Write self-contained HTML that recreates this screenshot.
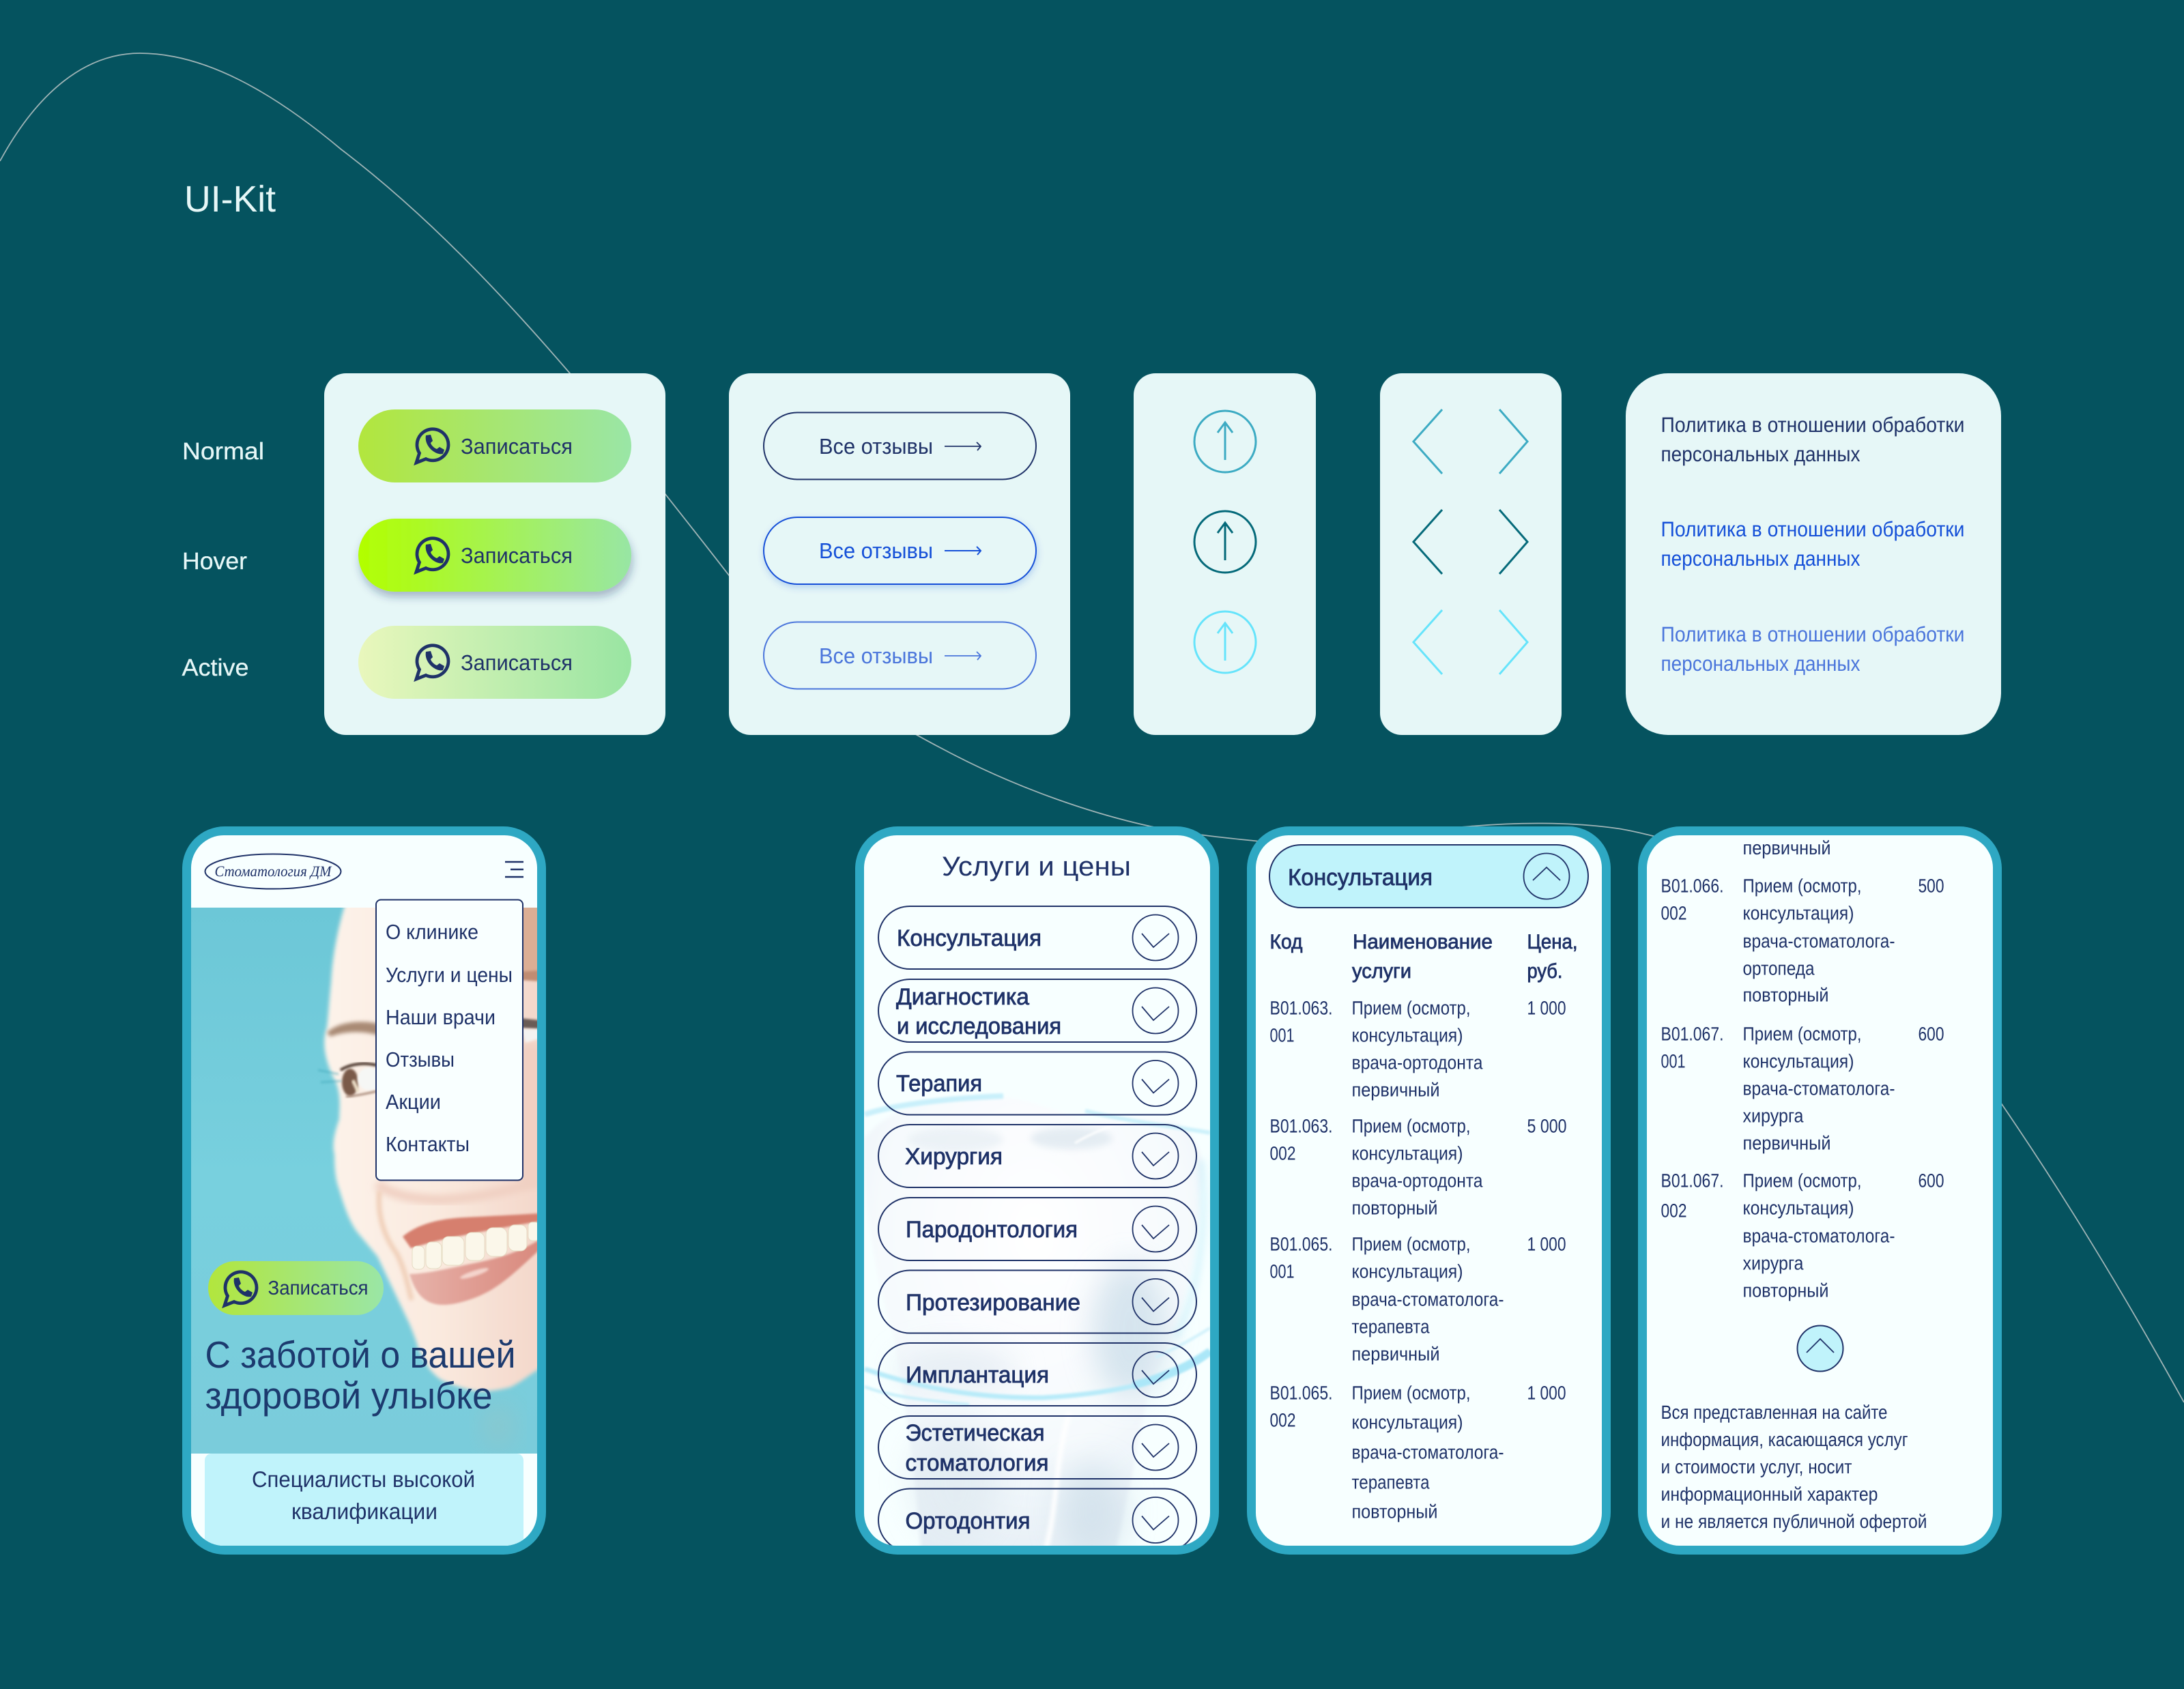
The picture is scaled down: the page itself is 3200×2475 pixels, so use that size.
<!DOCTYPE html>
<html lang="ru">
<head>
<meta charset="utf-8">
<title>UI-Kit</title>
<style>
html,body{margin:0;padding:0;background:#05535f}
svg{display:block}
text{font-family:"Liberation Sans","Noto Sans CJK SC",sans-serif;text-rendering:geometricPrecision;fill:#1f3268}
.sb{stroke:#1f3268;stroke-width:.8}
.t{font-size:28px}
.h{font-size:34px}
.th{font-size:30px}
.lab{fill:#e6f7f7;font-size:35px;stroke:#e6f7f7;stroke-width:.3}
.btn{font-size:32px}
.pol{font-size:31px}
.menu{font-size:30.5px}
.pill{fill:none;stroke:#1f3268;stroke-width:2}
.ch{fill:none;stroke:#1f3268;stroke-width:1.8}
</style>
</head>
<body>
<svg xmlns="http://www.w3.org/2000/svg" width="3200" height="2475" viewBox="0 0 3200 2475">
<defs>
<linearGradient id="g1" x1="0" y1="0" x2="1" y2="0"><stop offset="0" stop-color="#b2e63d"/><stop offset="1" stop-color="#9ae6a6"/></linearGradient>
<linearGradient id="g2" x1="0" y1="0" x2="1" y2="0"><stop offset="0" stop-color="#b2ff00"/><stop offset="1" stop-color="#98e6a4"/></linearGradient>
<linearGradient id="g3" x1="0" y1="0" x2="1" y2="0"><stop offset="0" stop-color="#e9f7bc"/><stop offset="1" stop-color="#99e5a2"/></linearGradient>
<linearGradient id="photo" x1="0" y1="0" x2="0" y2="1"><stop offset="0" stop-color="#6cc7d7"/><stop offset=".5" stop-color="#78d0de"/><stop offset="1" stop-color="#7accdb"/></linearGradient>
<linearGradient id="skin" x1="0" y1="0" x2="1" y2="0"><stop offset="0" stop-color="#fdf3ea"/><stop offset=".5" stop-color="#faeadf"/><stop offset="1" stop-color="#f3d6c9"/></linearGradient>
<linearGradient id="lip" x1="0" y1="0" x2="1" y2="0"><stop offset="0" stop-color="#e6b3aa"/><stop offset=".5" stop-color="#e09c92"/><stop offset="1" stop-color="#d98a7e"/></linearGradient>
<radialGradient id="tooth" cx=".5" cy=".3" r=".75"><stop offset="0" stop-color="#ffffff"/><stop offset=".6" stop-color="#f6fafd"/><stop offset="1" stop-color="#e4eef5"/></radialGradient>
<filter id="b5" x="-30%" y="-30%" width="160%" height="160%"><feGaussianBlur stdDeviation="5"/></filter>
<filter id="b3" x="-30%" y="-30%" width="160%" height="160%"><feGaussianBlur stdDeviation="3"/></filter>
<filter id="b1" x="-30%" y="-30%" width="160%" height="160%"><feGaussianBlur stdDeviation="1.5"/></filter>
<filter id="b14" x="-80%" y="-80%" width="260%" height="260%"><feGaussianBlur stdDeviation="22"/></filter>
<filter id="sh1" x="-10%" y="-30%" width="120%" height="170%"><feDropShadow dx="2" dy="8" stdDeviation="6" flood-color="#1f3268" flood-opacity=".32"/></filter>
<filter id="sh2" x="-10%" y="-30%" width="120%" height="170%"><feDropShadow dx="1" dy="4" stdDeviation="5" flood-color="#1550d8" flood-opacity=".22"/></filter>
<g id="wa">
  <path d="M-25 26 L-20.5 12 A23 23 0 1 1 -11 20.5 Z" fill="none" stroke="#1f3268" stroke-width="4.8" stroke-linejoin="miter"/>
  <path d="M-11 -14 L-4 -15 L-1 -6 L-4 -3 C-3 1 2 5 5 6 L9 3 L16 7 L14 13 C4 16 -14 2 -11 -14 Z" fill="#1f3268"/>
</g>
<g id="chd"><path class="ch" d="M-20 -6 L-3 14 L20 -6"/></g>
<g id="chu"><path class="ch" d="M-20 6 L0 -13 L20 6"/></g>
<clipPath id="c1"><rect x="280" y="1224" width="507" height="1041" rx="48"/></clipPath>
<clipPath id="c2"><rect x="1266" y="1224" width="507" height="1041" rx="48"/></clipPath>
</defs>

<rect width="3200" height="2475" fill="#05535f"/>

<!-- decorative curve -->
<path d="M0 236 C55 135 125 78 205 78 C300 78 400 135 500 219 C620 310 730 425 835 547 C900 630 1000 755 1068 843 C1150 950 1250 1030 1386 1100 C1480 1150 1590 1190 1686 1211 C1750 1224 1800 1228 1846 1233 C1950 1240 2050 1218 2153 1211 C2220 1205 2300 1204 2370 1214 C2390 1217 2405 1221 2422 1225 C2650 1290 2830 1470 2933 1618 C3030 1760 3120 1910 3200 2055" fill="none" stroke="#9fb4b6" stroke-width="1.8"/>

<!-- headings -->
<text x="270" y="310" textLength="134" lengthAdjust="spacingAndGlyphs" style="fill:#e6f7f7;font-size:54px">UI-Kit</text>
<text class="lab" x="267" y="673" textLength="120" lengthAdjust="spacingAndGlyphs">Normal</text>
<text class="lab" x="267" y="834" textLength="95" lengthAdjust="spacingAndGlyphs">Hover</text>
<text class="lab" x="266.500" y="990" textLength="98" lengthAdjust="spacingAndGlyphs">Active</text>

<!-- cards -->
<rect x="475" y="547" width="500" height="530" rx="32" fill="#e6f7f7"/>
<rect x="1068" y="547" width="500" height="530" rx="32" fill="#e6f7f7"/>
<rect x="1661" y="547" width="267" height="530" rx="32" fill="#e6f7f7"/>
<rect x="2022" y="547" width="266" height="530" rx="32" fill="#e6f7f7"/>
<rect x="2382" y="547" width="550" height="530" rx="62" fill="#e6f7f7"/>

<!-- green buttons -->
<rect x="525" y="600" width="400" height="107" rx="53.5" fill="url(#g1)"/>
<rect x="525" y="760" width="400" height="107" rx="53.5" fill="url(#g2)" filter="url(#sh1)"/>
<rect x="525" y="917" width="400" height="107" rx="53.5" fill="url(#g3)"/>
<use href="#wa" x="635" y="652"/>
<use href="#wa" x="635" y="812"/>
<use href="#wa" x="635" y="969"/>
<text class="btn" x="675" y="665" textLength="164" lengthAdjust="spacingAndGlyphs">Записаться</text>
<text class="btn" x="675" y="825" textLength="164" lengthAdjust="spacingAndGlyphs">Записаться</text>
<text class="btn" x="675" y="982" textLength="164" lengthAdjust="spacingAndGlyphs">Записаться</text>

<!-- outline buttons -->
<rect x="1119" y="604.5" width="399" height="98" rx="49" fill="none" stroke="#1f3268" stroke-width="2"/>
<rect x="1119" y="758" width="399" height="98" rx="49" fill="#e6f7f7" stroke="#1550d8" stroke-width="2" filter="url(#sh2)"/>
<rect x="1119" y="911.5" width="399" height="98" rx="49" fill="none" stroke="#4a75db" stroke-width="2"/>
<text class="btn" x="1200" y="665" textLength="167" lengthAdjust="spacingAndGlyphs">Все отзывы</text>
<text class="btn" x="1200" y="818" textLength="167" lengthAdjust="spacingAndGlyphs" style="fill:#1550d8">Все отзывы</text>
<text class="btn" x="1200" y="972" textLength="167" lengthAdjust="spacingAndGlyphs" style="fill:#4a75db">Все отзывы</text>
<path d="M1384 654 H1437 M1431 648 L1437 654 L1432 660" fill="none" stroke="#1f3268" stroke-width="1.8"/>
<path d="M1384 807 H1437 M1431 801 L1437 807 L1432 813" fill="none" stroke="#1550d8" stroke-width="2"/>
<path d="M1384 961 H1437 M1431 955 L1437 961 L1432 967" fill="none" stroke="#4a75db" stroke-width="1.8"/>

<!-- up arrows -->
<g fill="none" stroke-width="3">
<g stroke="#3dabc3"><circle cx="1795" cy="647" r="45"/><path d="M1795 674 V620 M1784 634 L1795 619 L1806 634"/></g>
<g stroke="#056a7a"><circle cx="1795" cy="794" r="45"/><path d="M1795 821 V767 M1784 781 L1795 766 L1806 781"/></g>
<g stroke="#66e4fb"><circle cx="1795" cy="941" r="45"/><path d="M1795 968 V914 M1784 928 L1795 913 L1806 928"/></g>
</g>

<!-- chevrons -->
<g fill="none" stroke-width="3">
<path stroke="#3dabc3" d="M2113 600 L2071 647 L2113 694 M2197 600 L2238 647 L2197 694"/>
<path stroke="#056a7a" d="M2113 747 L2071 794 L2113 841 M2197 747 L2238 794 L2197 841"/>
<path stroke="#66e4fb" d="M2113 894 L2071 941 L2113 988 M2197 894 L2238 941 L2197 988"/>
</g>

<!-- policy links -->
<text class="pol" x="2433.5" y="633" textLength="445" lengthAdjust="spacingAndGlyphs">Политика в отношении обработки</text>
<text class="pol" x="2433.5" y="676" textLength="292" lengthAdjust="spacingAndGlyphs">персональных данных</text>
<text class="pol" x="2433.5" y="786" textLength="445" lengthAdjust="spacingAndGlyphs" style="fill:#1550d8">Политика в отношении обработки</text>
<text class="pol" x="2433.5" y="829" textLength="292" lengthAdjust="spacingAndGlyphs" style="fill:#1550d8">персональных данных</text>
<text class="pol" x="2433.5" y="940" textLength="445" lengthAdjust="spacingAndGlyphs" style="fill:#4a75db">Политика в отношении обработки</text>
<text class="pol" x="2433.5" y="983" textLength="292" lengthAdjust="spacingAndGlyphs" style="fill:#4a75db">персональных данных</text>

<!-- PHONE 1 -->
<rect x="267" y="1211" width="533" height="1067" rx="62" fill="#2ea8c3"/>
<rect x="280" y="1224" width="507" height="1041" rx="48" fill="#f7ffff"/>
<g clip-path="url(#c1)">
  <rect x="280" y="1330" width="507" height="800" fill="url(#photo)"/>
  <svg x="280" y="1330" width="507" height="800" viewBox="280 1330 507 800">
    <ellipse cx="730" cy="2090" rx="16" ry="34" fill="#b9b9a8" opacity=".4" filter="url(#b14)"/>
    <path d="M507 1320 C495 1360 487 1400 485 1440 C482 1470 481 1490 479 1505 C470 1530 478 1560 493 1588 C500 1610 497 1625 497 1640 C488 1665 487 1680 490 1692 C490 1715 492 1730 497 1743 C505 1770 512 1790 523 1805 L553 1841 L600 1940 C606 1955 610 1965 613 1976 C620 1990 625 2000 630 2007 C640 2018 645 2022 653 2025 C670 2032 685 2036 697 2038 C715 2040 730 2037 747 2033 C765 2025 778 2012 800 2000 L800 1320 Z" fill="url(#skin)" filter="url(#b3)"/>
    <path d="M762 1320 H800 V1430 H762 Z" fill="#dcae94" filter="url(#b3)"/>
    <path d="M762 1530 H800 V1740 H762 Z" fill="#f0d0c2" filter="url(#b5)"/>
    <!-- eyebrow -->
    <path d="M479 1513 C495 1498 525 1494 555 1500 L555 1517 C530 1510 505 1511 484 1519 Z" fill="#a98a74" filter="url(#b3)"/>
    <path d="M762 1424 L790 1422 V1438 L762 1436 Z" fill="#c08c72" filter="url(#b1)"/>
    <!-- eye -->
    <ellipse cx="513" cy="1586" rx="12" ry="20" fill="#7a5a48" filter="url(#b1)"/>
    <ellipse cx="541" cy="1581" rx="17" ry="17" fill="#f6f7f5" filter="url(#b1)"/>
    <path d="M499 1568 C515 1558 535 1557 552 1561" fill="none" stroke="#4a342a" stroke-width="4" filter="url(#b1)"/>
    <path d="M507 1607 C520 1606 540 1602 552 1599" fill="none" stroke="#9c7c6a" stroke-width="2.5" filter="url(#b1)"/>
    <path d="M517 1583 L525 1600" stroke="#efe2cb" stroke-width="5" filter="url(#b1)"/>
    <path d="M466 1568 L496 1574 M470 1586 L500 1584" stroke="#3aa3b6" stroke-width="3" opacity=".45" filter="url(#b1)"/>
    <path d="M762 1492 L790 1495 V1508 L762 1506 Z" fill="#6a5c56" filter="url(#b1)"/>
    <path d="M765 1508 L790 1508 V1522 L770 1528 Z" fill="#f4f3f1" filter="url(#b1)"/>
    <!-- nose bottom -->
    <path d="M552 1735 C575 1752 610 1758 650 1758 C700 1755 750 1745 790 1730" fill="none" stroke="#f0d0c2" stroke-width="14" filter="url(#b5)"/>
    <!-- cheek fold -->
    <path d="M556 1745 C552 1785 565 1815 582 1838 C592 1858 597 1880 603 1905" fill="none" stroke="#f0cfb8" stroke-width="7" filter="url(#b3)"/>
    <!-- lips -->
    <path d="M590 1812 C610 1795 640 1786 680 1784 C720 1782 760 1780 790 1778 L790 1790 C750 1796 700 1806 660 1814 C640 1818 620 1824 602 1829 Z" fill="#d67f6e" filter="url(#b1)"/>
    <path d="M600 1867 C630 1866 660 1858 690 1852 C720 1846 755 1838 790 1817 L790 1832 C770 1850 745 1875 720 1890 C700 1902 670 1912 650 1912 C625 1912 610 1900 600 1867 Z" fill="url(#lip)" filter="url(#b1)"/>
    <ellipse cx="695" cy="1866" rx="22" ry="4" fill="#f4d4cc" transform="rotate(-18 695 1866)" filter="url(#b1)"/>
    <g fill="#fbf7ea" stroke="#e6dcc4" stroke-width="1">
      <rect x="604" y="1826" width="18" height="34" rx="7"/>
      <rect x="624" y="1820" width="23" height="39" rx="8"/>
      <rect x="648" y="1812" width="32" height="42" rx="9"/>
      <rect x="682" y="1806" width="28" height="41" rx="9"/>
      <rect x="712" y="1799" width="31" height="42" rx="10"/>
      <rect x="745" y="1795" width="27" height="38" rx="9"/>
      <rect x="774" y="1791" width="16" height="27" rx="6"/>
    </g>
  </svg>
  <rect x="300" y="2130" width="467" height="140" rx="10" fill="#c0f3fb"/>
  <text x="369" y="2179" textLength="327" lengthAdjust="spacingAndGlyphs" style="font-size:33px">Специалисты высокой</text>
  <text x="427" y="2226" textLength="214" lengthAdjust="spacingAndGlyphs" style="font-size:33px">квалификации</text>
</g>
<ellipse cx="400" cy="1277" rx="99.5" ry="25.5" fill="none" stroke="#1f3268" stroke-width="2"/>
<text x="400" y="1284" text-anchor="middle" textLength="171" lengthAdjust="spacingAndGlyphs" style="font-family:'Liberation Serif',serif;font-style:italic;font-size:22px">Стоматология ДМ</text>
<path d="M740 1263 H767 M748 1274 H767 M740 1285 H767" stroke="#1f3268" stroke-width="2.6" fill="none"/>
<rect x="551" y="1318.5" width="215" height="411" rx="7" fill="#f9ffff" stroke="#1f3268" stroke-width="2"/>
<text class="menu" x="565" y="1376" textLength="136" lengthAdjust="spacingAndGlyphs">О клинике</text>
<text class="menu" x="565" y="1439" textLength="186" lengthAdjust="spacingAndGlyphs">Услуги и цены</text>
<text class="menu" x="565" y="1501" textLength="161" lengthAdjust="spacingAndGlyphs">Наши врачи</text>
<text class="menu" x="565" y="1563" textLength="101" lengthAdjust="spacingAndGlyphs">Отзывы</text>
<text class="menu" x="565" y="1625" textLength="81" lengthAdjust="spacingAndGlyphs">Акции</text>
<text class="menu" x="565" y="1687" textLength="123" lengthAdjust="spacingAndGlyphs">Контакты</text>
<rect x="305" y="1848" width="257" height="79" rx="39.5" fill="url(#g1)"/>
<use href="#wa" x="354" y="1887"/>
<text x="392.500" y="1897" textLength="147" lengthAdjust="spacingAndGlyphs" style="font-size:29px">Записаться</text>
<text x="300.500" y="2004" textLength="455" lengthAdjust="spacingAndGlyphs" style="font-size:55px;fill:#1c3a6e">С заботой о вашей</text>
<text x="300.500" y="2064" textLength="421" lengthAdjust="spacingAndGlyphs" style="font-size:55px;fill:#1c3a6e">здоровой улыбке</text>

<!-- PHONE 2 -->
<rect x="1253" y="1211" width="533" height="1067" rx="62" fill="#2ea8c3"/>
<rect x="1266" y="1224" width="507" height="1041" rx="48" fill="#f7ffff"/>
<g clip-path="url(#c2)">
  <path d="M1267 1668 C1300 1620 1400 1600 1467 1607 C1510 1612 1560 1630 1593 1646 C1620 1636 1680 1630 1727 1646 C1760 1670 1768 1710 1760 1742 C1755 1820 1745 1880 1727 1928 C1715 1965 1700 2000 1687 2024 C1675 2070 1668 2110 1660 2154 C1650 2200 1642 2240 1633 2280 L1350 2280 C1345 2200 1335 2120 1327 2067 C1320 2020 1315 1985 1310 1959 C1285 1880 1262 1760 1267 1668 Z" fill="url(#tooth)" filter="url(#b3)"/>
  <path d="M1760 1700 C1770 1800 1755 1900 1722 1960" fill="none" stroke="#c5eefa" stroke-width="10" opacity=".55" filter="url(#b5)"/>
  <ellipse cx="1655" cy="1950" rx="55" ry="100" fill="#c8dbe8" opacity=".7" filter="url(#b14)"/>
  <ellipse cx="1600" cy="2215" rx="50" ry="70" fill="#cddee9" opacity=".7" filter="url(#b14)"/>
  <ellipse cx="1400" cy="2170" rx="65" ry="90" fill="#e0eaf1" opacity=".7" filter="url(#b14)"/>
  <ellipse cx="1400" cy="2005" rx="90" ry="30" fill="#dfe8f0" opacity=".7" filter="url(#b14)"/>
  <ellipse cx="1570" cy="1668" rx="60" ry="16" fill="#dbe6ee" opacity=".7" filter="url(#b5)"/>
  <ellipse cx="1400" cy="1670" rx="70" ry="18" fill="#e9f0f5" opacity=".8" filter="url(#b5)"/>
  <path d="M1575 1675 C1600 1660 1625 1650 1660 1640" fill="none" stroke="#ffffff" stroke-width="3" filter="url(#b1)"/>
  <path d="M1567 2070 C1545 2140 1550 2210 1530 2280" fill="none" stroke="#ffffff" stroke-width="7" filter="url(#b3)"/>
  <path d="M1267 1633 C1300 1622 1370 1610 1470 1606" fill="none" stroke="#c9f0fb" stroke-width="8" filter="url(#b1)"/>
  <path d="M1773 1660 C1730 1652 1660 1645 1590 1628" fill="none" stroke="#ccf1fb" stroke-width="6" filter="url(#b1)"/>
  <path d="M1267 2006 C1330 2028 1420 2050 1530 2048 C1600 2044 1720 2030 1773 1982" fill="none" stroke="#b8ebf9" stroke-width="7" filter="url(#b1)"/>
  <path d="M1660 2030 C1710 2016 1745 2000 1773 1980" fill="none" stroke="#abe7f8" stroke-width="11" filter="url(#b1)"/>
  <path d="M1267 2032 C1300 2045 1350 2052 1420 2058" fill="none" stroke="#c4eefa" stroke-width="4" filter="url(#b1)"/>
  <path d="M1693 1989 C1725 1975 1750 1960 1773 1946" fill="none" stroke="#d0f1fb" stroke-width="4" filter="url(#b1)"/>
  <g>
    <rect class="pill" x="1287" y="1328" width="466" height="92" rx="46"/>
    <rect class="pill" x="1287" y="1435" width="466" height="92" rx="46"/>
    <rect class="pill" x="1287" y="1541.5" width="466" height="92" rx="46"/>
    <rect class="pill" x="1287" y="1648" width="466" height="92" rx="46"/>
    <rect class="pill" x="1287" y="1755" width="466" height="92" rx="46"/>
    <rect class="pill" x="1287" y="1861.5" width="466" height="92" rx="46"/>
    <rect class="pill" x="1287" y="1968" width="466" height="92" rx="46"/>
    <rect class="pill" x="1287" y="2075" width="466" height="92" rx="46"/>
    <rect class="pill" x="1287" y="2181.5" width="466" height="92" rx="46"/>
  </g>
  <g>
    <circle class="ch" cx="1693" cy="1374" r="33.5"/>
    <circle class="ch" cx="1693" cy="1481" r="33.5"/>
    <circle class="ch" cx="1693" cy="1587.5" r="33.5"/>
    <circle class="ch" cx="1693" cy="1694" r="33.5"/>
    <circle class="ch" cx="1693" cy="1801" r="33.5"/>
    <circle class="ch" cx="1693" cy="1907.5" r="33.5"/>
    <circle class="ch" cx="1693" cy="2014" r="33.5"/>
    <circle class="ch" cx="1693" cy="2121" r="33.5"/>
    <circle class="ch" cx="1693" cy="2227.5" r="33.5"/>
  </g>
  <use href="#chd" x="1693" y="1374"/><use href="#chd" x="1693" y="1481"/><use href="#chd" x="1693" y="1587.5"/>
  <use href="#chd" x="1693" y="1694"/><use href="#chd" x="1693" y="1801"/><use href="#chd" x="1693" y="1907.5"/>
  <use href="#chd" x="1693" y="2014"/><use href="#chd" x="1693" y="2121"/><use href="#chd" x="1693" y="2227.5"/>
</g>
<text x="1380" y="1283" textLength="277" lengthAdjust="spacingAndGlyphs" style="font-size:40px">Услуги и цены</text>
<text class="h sb" x="1314" y="1386" textLength="212" lengthAdjust="spacingAndGlyphs">Консультация</text>
<text class="h sb" x="1313" y="1472" textLength="195" lengthAdjust="spacingAndGlyphs">Диагностика</text>
<text class="h sb" x="1314" y="1515" textLength="241" lengthAdjust="spacingAndGlyphs">и исследования</text>
<text class="h sb" x="1313" y="1599" textLength="126" lengthAdjust="spacingAndGlyphs">Терапия</text>
<text class="h sb" x="1326" y="1706" textLength="143" lengthAdjust="spacingAndGlyphs">Хирургия</text>
<text class="h sb" x="1327" y="1813" textLength="252" lengthAdjust="spacingAndGlyphs">Пародонтология</text>
<text class="h sb" x="1327" y="1920" textLength="256" lengthAdjust="spacingAndGlyphs">Протезирование</text>
<text class="h sb" x="1327" y="2026" textLength="210" lengthAdjust="spacingAndGlyphs">Имплантация</text>
<text class="h sb" x="1326.500" y="2111" textLength="204" lengthAdjust="spacingAndGlyphs">Эстетическая</text>
<text class="h sb" x="1326.500" y="2155" textLength="210" lengthAdjust="spacingAndGlyphs">стоматология</text>
<text class="h sb" x="1326.500" y="2240" textLength="183" lengthAdjust="spacingAndGlyphs">Ортодонтия</text>

<!-- PHONE 3 -->
<rect x="1827" y="1211" width="533" height="1067" rx="62" fill="#2ea8c3"/>
<rect x="1840" y="1224" width="507" height="1041" rx="48" fill="#f7ffff"/>
<rect x="1860" y="1238" width="467" height="92" rx="46" fill="#c0f3fb" stroke="#1f3268" stroke-width="2"/>
<circle class="ch" cx="2266" cy="1284" r="33.5"/>
<use href="#chu" x="2266" y="1284"/>
<text class="h sb" x="1887" y="1297" textLength="212" lengthAdjust="spacingAndGlyphs">Консультация</text>
<text class="th sb" x="1860.500" y="1390" textLength="48" lengthAdjust="spacingAndGlyphs">Код</text>
<text class="th sb" x="1982" y="1390" textLength="205" lengthAdjust="spacingAndGlyphs">Наименование</text>
<text class="th sb" x="1981" y="1433" textLength="87" lengthAdjust="spacingAndGlyphs">услуги</text>
<text class="th sb" x="2237.500" y="1390" textLength="74" lengthAdjust="spacingAndGlyphs">Цена,</text>
<text class="th sb" x="2237.500" y="1433" textLength="52" lengthAdjust="spacingAndGlyphs">руб.</text>

<g transform="translate(-.5,-1.5)">
<text class="t" x="1861" y="1488" textLength="92" lengthAdjust="spacingAndGlyphs">В01.063.</text>
<text class="t" x="1861" y="1528" textLength="36" lengthAdjust="spacingAndGlyphs">001</text>
<text class="t" x="1981" y="1488" textLength="174" lengthAdjust="spacingAndGlyphs">Прием (осмотр,</text>
<text class="t" x="1981" y="1528" textLength="163" lengthAdjust="spacingAndGlyphs">консультация)</text>
<text class="t" x="1981" y="1568" textLength="192" lengthAdjust="spacingAndGlyphs">врача-ортодонта</text>
<text class="t" x="1981" y="1608" textLength="129" lengthAdjust="spacingAndGlyphs">первичный</text>
<text class="t" x="2238" y="1488" textLength="57" lengthAdjust="spacingAndGlyphs">1 000</text>

<text class="t" x="1861" y="1661" textLength="92" lengthAdjust="spacingAndGlyphs">В01.063.</text>
<text class="t" x="1861" y="1701" textLength="38" lengthAdjust="spacingAndGlyphs">002</text>
<text class="t" x="1981" y="1661" textLength="174" lengthAdjust="spacingAndGlyphs">Прием (осмотр,</text>
<text class="t" x="1981" y="1701" textLength="163" lengthAdjust="spacingAndGlyphs">консультация)</text>
<text class="t" x="1981" y="1741" textLength="192" lengthAdjust="spacingAndGlyphs">врача-ортодонта</text>
<text class="t" x="1981" y="1781" textLength="126" lengthAdjust="spacingAndGlyphs">повторный</text>
<text class="t" x="2238" y="1661" textLength="58" lengthAdjust="spacingAndGlyphs">5 000</text>

<text class="t" x="1861" y="1834" textLength="92" lengthAdjust="spacingAndGlyphs">В01.065.</text>
<text class="t" x="1861" y="1874" textLength="36" lengthAdjust="spacingAndGlyphs">001</text>
<text class="t" x="1981" y="1834" textLength="174" lengthAdjust="spacingAndGlyphs">Прием (осмотр,</text>
<text class="t" x="1981" y="1874" textLength="163" lengthAdjust="spacingAndGlyphs">консультация)</text>
<text class="t" x="1981" y="1915" textLength="223" lengthAdjust="spacingAndGlyphs">врача-стоматолога-</text>
<text class="t" x="1981" y="1955" textLength="114" lengthAdjust="spacingAndGlyphs">терапевта</text>
<text class="t" x="1981" y="1995" textLength="129" lengthAdjust="spacingAndGlyphs">первичный</text>
<text class="t" x="2238" y="1834" textLength="57" lengthAdjust="spacingAndGlyphs">1 000</text>

<text class="t" x="1861" y="2052" textLength="92" lengthAdjust="spacingAndGlyphs">В01.065.</text>
<text class="t" x="1861" y="2092" textLength="38" lengthAdjust="spacingAndGlyphs">002</text>
<text class="t" x="1981" y="2052" textLength="174" lengthAdjust="spacingAndGlyphs">Прием (осмотр,</text>
<text class="t" x="1981" y="2095" textLength="163" lengthAdjust="spacingAndGlyphs">консультация)</text>
<text class="t" x="1981" y="2139" textLength="223" lengthAdjust="spacingAndGlyphs">врача-стоматолога-</text>
<text class="t" x="1981" y="2183" textLength="114" lengthAdjust="spacingAndGlyphs">терапевта</text>
<text class="t" x="1981" y="2226" textLength="126" lengthAdjust="spacingAndGlyphs">повторный</text>
<text class="t" x="2238" y="2052" textLength="57" lengthAdjust="spacingAndGlyphs">1 000</text>
</g>

<!-- PHONE 4 -->
<rect x="2400" y="1211" width="533" height="1067" rx="62" fill="#2ea8c3"/>
<rect x="2413" y="1224" width="507" height="1041" rx="48" fill="#f7ffff"/>
<text class="t" x="2553.500" y="1252" textLength="129" lengthAdjust="spacingAndGlyphs">первичный</text>

<g transform="translate(-.5,-1.5)">
<text class="t" x="2434" y="1309" textLength="92" lengthAdjust="spacingAndGlyphs">В01.066.</text>
<text class="t" x="2434" y="1349" textLength="38" lengthAdjust="spacingAndGlyphs">002</text>
<text class="t" x="2554" y="1309" textLength="174" lengthAdjust="spacingAndGlyphs">Прием (осмотр,</text>
<text class="t" x="2554" y="1349" textLength="163" lengthAdjust="spacingAndGlyphs">консультация)</text>
<text class="t" x="2554" y="1390" textLength="223" lengthAdjust="spacingAndGlyphs">врача-стоматолога-</text>
<text class="t" x="2554" y="1430" textLength="105" lengthAdjust="spacingAndGlyphs">ортопеда</text>
<text class="t" x="2554" y="1469" textLength="126" lengthAdjust="spacingAndGlyphs">повторный</text>
<text class="t" x="2811" y="1309" textLength="38" lengthAdjust="spacingAndGlyphs">500</text>

<text class="t" x="2434" y="1526" textLength="92" lengthAdjust="spacingAndGlyphs">В01.067.</text>
<text class="t" x="2434" y="1566" textLength="36" lengthAdjust="spacingAndGlyphs">001</text>
<text class="t" x="2554" y="1526" textLength="174" lengthAdjust="spacingAndGlyphs">Прием (осмотр,</text>
<text class="t" x="2554" y="1566" textLength="163" lengthAdjust="spacingAndGlyphs">консультация)</text>
<text class="t" x="2554" y="1606" textLength="223" lengthAdjust="spacingAndGlyphs">врача-стоматолога-</text>
<text class="t" x="2554" y="1646" textLength="89" lengthAdjust="spacingAndGlyphs">хирурга</text>
<text class="t" x="2554" y="1686" textLength="129" lengthAdjust="spacingAndGlyphs">первичный</text>
<text class="t" x="2811" y="1526" textLength="38" lengthAdjust="spacingAndGlyphs">600</text>

<text class="t" x="2434" y="1741" textLength="92" lengthAdjust="spacingAndGlyphs">В01.067.</text>
<text class="t" x="2434" y="1785" textLength="38" lengthAdjust="spacingAndGlyphs">002</text>
<text class="t" x="2554" y="1741" textLength="174" lengthAdjust="spacingAndGlyphs">Прием (осмотр,</text>
<text class="t" x="2554" y="1781" textLength="163" lengthAdjust="spacingAndGlyphs">консультация)</text>
<text class="t" x="2554" y="1822" textLength="223" lengthAdjust="spacingAndGlyphs">врача-стоматолога-</text>
<text class="t" x="2554" y="1862" textLength="89" lengthAdjust="spacingAndGlyphs">хирурга</text>
<text class="t" x="2554" y="1902" textLength="126" lengthAdjust="spacingAndGlyphs">повторный</text>
<text class="t" x="2811" y="1741" textLength="38" lengthAdjust="spacingAndGlyphs">600</text>
</g>

<circle cx="2667" cy="1976" r="33.5" fill="#c0f3fb" stroke="#1f3268" stroke-width="2"/>
<path class="ch" d="M2647 1982 L2667 1962 L2687 1982"/>

<text class="t" x="2433.500" y="2079" textLength="332" lengthAdjust="spacingAndGlyphs">Вся представленная на сайте</text>
<text class="t" x="2433.500" y="2119" textLength="362" lengthAdjust="spacingAndGlyphs">информация, касающаяся услуг</text>
<text class="t" x="2433.500" y="2159" textLength="280" lengthAdjust="spacingAndGlyphs">и стоимости услуг, носит</text>
<text class="t" x="2433.500" y="2199" textLength="318" lengthAdjust="spacingAndGlyphs">информационный характер</text>
<text class="t" x="2433.500" y="2239" textLength="390" lengthAdjust="spacingAndGlyphs">и не является публичной офертой</text>
</svg>
</body>
</html>
